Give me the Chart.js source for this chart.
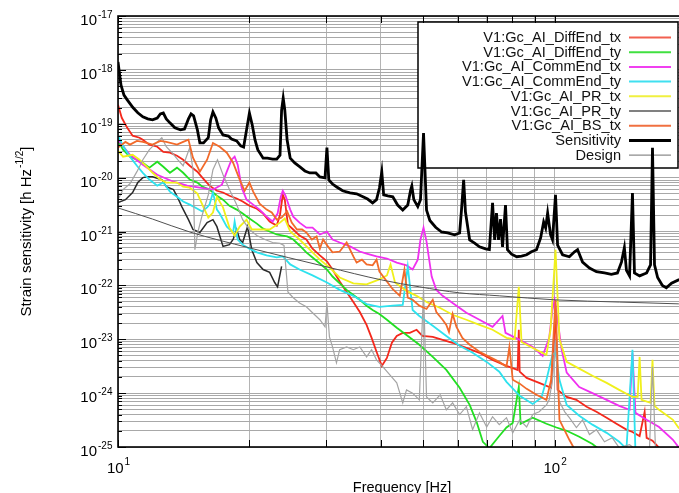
<!DOCTYPE html>
<html>
<head>
<meta charset="utf-8">
<script src="https://cdn.jsdelivr.net/npm/chart.js@4.4.1/dist/chart.umd.min.js"></script>
<style>
html,body{margin:0;padding:0;background:#ffffff;overflow:hidden;}
body{width:679px;height:493px;position:relative;}
#wrap{position:absolute;left:0;top:0;width:690px;height:493px;}
canvas{display:block;}
</style>
</head>
<body>
<div id="wrap"><canvas id="chart" width="690" height="493"></canvas></div>
<script>
// ---------------- data ----------------
const seriesLabels = [
  'V1:Gc_AI_DiffEnd_tx','V1:Gc_AI_DiffEnd_ty','V1:Gc_AI_CommEnd_tx','V1:Gc_AI_CommEnd_ty',
  'V1:Gc_AI_PR_tx','V1:Gc_AI_PR_ty','V1:Gc_AI_BS_tx','Sensitivity','Design'
];
const yTickDecades = [-17,-18,-19,-20,-21,-22,-23,-24,-25];
const xTickValues = [10,20,30,40,50,60,70,80,90,100,200];
const xLabelDecades = [1,2];

const redFreq = [10.0,10.2,10.5,10.8,11.2,11.4,11.8,12.3,12.7,13.15,13.65,14.1,14.6,15.2,15.6,16.2,16.85,17.4,18.0,18.7,19.3,20.0,20.8,21.5,22.25,23.1,23.5,23.85,24.1,24.5,25.2,26.05,27.0,27.9,29.0,30.1,31.0,32.2,33.4,34.6,35.8,37.1,38.1,39.1,40.2,41.3,42.4,43.5,44.9,46.6,48.3,49.8,52.6,55.4,58.4,62.8,67.3,72.1,77.6,82.3,82.8,83.2,86.3,92.2,98.2,100.5,101.6,106.6,112.2,118.4,124.7,131.6,138.6,146.1,150.8,156.6,160.8,162.5,167.6,173.5];
const redVal = [2.25e-19,1.29e-19,8.4e-20,6.0e-20,5.5e-20,5.05e-20,4.1e-20,3.75e-20,3.0e-20,2.9e-20,2.55e-20,2.15e-20,1.66e-20,1.29e-20,1.0e-20,7.1e-21,5.7e-21,5.3e-21,4.6e-21,4.1e-21,3.6e-21,3.0e-21,2.65e-21,2.15e-21,1.53e-21,1.29e-21,2.05e-21,4.8e-21,3.9e-21,1.34e-21,1.09e-21,8.4e-22,7.1e-22,4.8e-22,3.6e-22,2.8e-22,1.97e-22,1.18e-22,7.55e-23,4.9e-23,3.2e-23,1.85e-23,1.06e-23,5.85e-24,3.2e-24,4.5e-24,8.6e-24,1.15e-23,1.31e-23,1.31e-23,1.5e-23,1.15e-23,1.11e-23,9.75e-24,8.6e-24,6.9e-24,5.6e-24,4.15e-24,3.2e-24,2.7e-24,1.5e-23,2.5e-24,1.92e-24,1.55e-24,1.26e-24,3.5e-23,1.15e-24,8.5e-25,7.5e-25,5.6e-25,4.5e-25,3.5e-25,2.7e-25,2.1e-25,1.9e-25,1.6e-25,4.5e-25,1.48e-25,1.31e-25,9.7e-26];

const greenFreq = [10.0,10.27,10.65,11.05,11.4,11.8,12.3,12.7,13.15,13.65,14.1,14.6,15.2,15.6,16.2,16.85,17.4,18.0,18.7,19.3,20.0,20.8,21.5,22.25,23.1,23.85,24.4,25.2,26.05,27.0,27.9,29.0,30.1,31.0,32.2,33.4,34.6,35.8,37.1,38.3,39.7,41.3,43.5,45.8,49.0,52.6,56.5,60.6,63.9,66.3,68.5,70.9,74.7,77.6,80.2,82.8,83.6,89.1,95.8,101.0,106.6,113.9,122.1,128.8];
const greenVal = [4.8e-20,3.3e-20,2.45e-20,2.15e-20,1.89e-20,1.53e-20,1.97e-20,1.59e-20,1.23e-20,1.53e-20,1.23e-20,9.2e-21,8.1e-21,6.8e-21,6.0e-21,4.6e-21,3.9e-21,3.0e-21,2.55e-21,2.15e-21,1.74e-21,1.40e-21,1.13e-21,1.0e-21,8.8e-22,8.4e-22,8.1e-22,7.1e-22,5.5e-22,4.1e-22,3.3e-22,2.55e-22,1.97e-22,1.46e-22,1.09e-22,8.25e-23,6.65e-23,5.4e-23,4.2e-23,3.5e-23,2.95e-23,2.3e-23,1.63e-23,1.2e-23,7.9e-24,4.7e-24,2.7e-24,1.26e-24,6.05e-25,2.9e-25,1.25e-25,9.5e-26,1.6e-25,2.3e-25,2.8e-25,1.3e-24,2.7e-25,3.5e-25,2.7e-25,2.3e-25,2.0e-25,1.55e-25,1.14e-25,8.1e-26];

const magFreq = [10.0,10.65,11.4,12.3,13.4,14.4,15.4,16.5,17.3,17.75,18.2,18.5,18.8,19.2,19.7,20.4,21.1,21.9,22.6,23.2,23.6,23.85,24.2,24.8,25.2,26.05,27.0,27.9,29.0,30.1,31.0,32.2,34.0,35.8,37.1,39.1,41.3,43.5,45.8,47.3,48.6,49.3,50.1,50.9,52.3,53.6,55.4,58.4,62.8,67.3,72.1,76.0,77.2,83.2,89.1,93.9,97.2,98.9,100.0,101.6,103.8,106.6,113.9,122.1,131.6,140.6,148.5,150.8,153.2,162.5,173.5,186.7,192.2,199.5];
const magVal = [5.05e-20,2.65e-20,1.74e-20,1.13e-20,8.4e-21,7.1e-21,6.5e-21,6.0e-21,7.4e-21,1.29e-20,2.15e-20,2.45e-20,1.74e-20,6.5e-21,3.9e-21,3.15e-21,2.55e-21,1.89e-21,1.53e-21,2.15e-21,4.4e-21,5.7e-21,4.6e-21,2.55e-21,1.89e-21,1.46e-21,1.18e-21,1.18e-21,8.8e-22,1.0e-21,7.1e-22,6.25e-22,5.3e-22,4.25e-22,3.9e-22,3.45e-22,3.15e-22,2.65e-22,2.35e-22,1.97e-22,3.0e-22,7.1e-22,1.18e-21,6.5e-22,1.46e-22,8.25e-23,6.4e-23,4.7e-23,3.1e-23,2.3e-23,1.7e-23,2.7e-23,1.31e-23,9.75e-24,7.2e-24,4.9e-24,1.06e-23,3.5e-23,5.4e-23,2.3e-23,6.4e-24,2.4e-24,1.3e-24,1.0e-24,7.5e-25,5.8e-25,4.9e-25,5.6e-24,4.3e-25,3.2e-25,2.35e-25,1.36e-25,1.0e-25,8e-26];

const cyanFreq = [10.0,10.27,10.65,11.05,11.4,11.8,12.3,12.7,13.15,13.65,14.1,14.6,15.2,15.6,16.0,16.2,16.5,16.85,17.1,17.75,18.35,18.5,18.8,19.3,20.0,20.8,21.9,23.1,23.85,24.8,26.05,27.9,30.1,32.2,34.6,37.1,39.7,42.6,44.9,46.1,47.3,49.0,52.6,56.5,60.6,64.9,69.9,74.7,77.6,83.2,89.1,93.3,95.8,98.9,100.5,102.6,106.6,113.9,122.1,131.6,140.6,146.1,150.8,153.2];
const cyanVal = [6.0e-20,3.9e-20,2.45e-20,1.66e-20,1.23e-20,9.2e-21,7.1e-21,8.1e-21,5.5e-21,4.4e-21,3.6e-21,3.15e-21,2.65e-21,2.35e-21,2.8e-21,3.15e-21,5.3e-21,2.55e-21,2.15e-21,1.23e-21,9.6e-22,1.53e-21,7.1e-22,5.7e-22,4.8e-22,4.1e-22,3.6e-22,3.3e-22,3.45e-22,2.45e-22,1.97e-22,1.53e-22,1.13e-22,8.25e-23,6.4e-23,4.5e-23,4.0e-23,4.2e-23,4.35e-23,2.25e-22,3.5e-23,2.7e-23,1.78e-23,1.15e-23,7.55e-24,5.6e-24,3.8e-24,2.5e-24,1.62e-24,8.9e-25,6.3e-25,8.2e-25,1.77e-24,5.15e-24,5.85e-24,1.77e-24,6.05e-25,3.8e-25,2.6e-25,1.83e-25,1.25e-25,9.3e-26,6.4e-24,8e-26];

const yelFreq = [10.0,10.27,10.8,11.2,11.65,12.0,12.5,12.9,13.65,14.1,14.6,15.2,15.6,16.1,16.5,16.85,17.4,18.0,18.5,19.0,19.7,20.25,21.1,22.25,23.5,24.1,24.8,26.05,27.5,29.0,30.5,32.2,34.6,37.1,39.7,41.3,42.1,43.1,45.8,48.3,50.9,54.7,58.4,62.8,67.3,72.1,77.6,81.0,82.8,84.0,89.1,95.8,97.9,100.5,102.6,106.6,113.9,122.1,131.6,140.6,150.8,155.0,156.6,158.2,165.9,167.6,169.4,173.5,186.7,192.2,199.5];
const yelVal = [3.15e-20,2.45e-20,2.65e-20,2.15e-20,1.59e-20,1.23e-20,9.2e-21,8.1e-21,8.1e-21,6.8e-21,6.5e-21,5.05e-21,3.15e-21,1.81e-21,2.25e-21,4.4e-21,2.8e-21,1.18e-21,8.4e-22,1.23e-21,1.66e-21,1.09e-21,1.09e-21,1.09e-21,1.46e-21,1.74e-21,1.0e-21,7.1e-22,4.6e-22,3.0e-22,2.15e-22,1.40e-22,1.09e-22,1.04e-22,1.29e-22,1.53e-22,2.45e-22,1.13e-22,7.9e-23,6.4e-23,4.9e-23,3.8e-23,2.85e-23,2.3e-23,1.85e-23,1.5e-23,1.06e-23,1.0e-23,9.4e-23,8.9e-24,6.9e-24,5.15e-24,1.5e-23,4.6e-22,1.0e-23,3.8e-24,2.85e-24,2.1e-24,1.55e-24,1.15e-24,8.5e-25,8.5e-25,4.7e-24,7.5e-25,6.6e-25,4.15e-24,5.8e-25,4.9e-25,3.2e-25,2.3e-25,1.8e-25];

const grayFreq = [10.0,10.27,10.65,11.05,11.4,11.8,12.3,12.6,12.9,13.3,13.7,14.1,14.4,14.6,14.85,15.0,15.25,15.6,16.1,16.5,16.9,17.4,18.0,18.7,19.3,20.0,20.8,21.7,22.6,23.5,24.0,24.5,25.2,26.05,27.0,27.9,29.0,29.8,30.1,30.5,31.0,31.65,32.2,33.4,34.6,35.8,37.1,38.1,39.1,40.4,41.9,43.5,44.9,45.8,47.3,49.0,50.1,50.9,52.6,54.7,56.5,58.4,60.6,62.8,64.9,67.3,69.9,72.1,74.7,77.6,80.2,83.2,86.3,89.1,92.2,95.8,97.2,98.9,100.5,102.1,105.5,108.1,112.2,115.9,120.2,124.7,130.1,135.6,140.6,148.5,156.6,165.0,167.6,170.3,178.4];
const grayVal = [3.9e-21,6.0e-21,7.7e-21,1.29e-20,2.15e-20,3.3e-20,4.6e-20,5.5e-20,3.75e-20,2.9e-20,2.15e-20,1.66e-20,2.65e-20,3.6e-20,1.40e-20,4.6e-22,1.0e-21,2.05e-21,4.8e-21,1.40e-20,2.15e-20,1.13e-20,6.0e-21,3.15e-21,1.66e-21,1.09e-21,8.4e-22,7.1e-22,6.25e-22,6.0e-22,5.5e-22,7.55e-23,5.9e-23,4.7e-23,4.0e-23,3.1e-23,2.3e-23,1.7e-23,4.7e-23,1.11e-23,7.2e-24,3.65e-24,6.4e-24,7.2e-24,6.4e-24,7.2e-24,4.7e-24,6.4e-24,4.15e-24,3.1e-24,2.2e-24,1.55e-24,6.6e-25,1.15e-24,1.0e-24,7.5e-25,8.25e-23,8.5e-25,6.6e-25,9.3e-25,4.9e-25,6.6e-25,4.0e-25,5.6e-25,2.1e-25,4.3e-25,2.35e-25,3.65e-25,2.6e-25,3.5e-25,1.83e-25,3.2e-25,2.35e-25,4.0e-25,4.5e-25,6.05e-25,7.5e-25,1.77e-24,9.75e-24,7.5e-25,4.5e-25,3.5e-25,2.3e-25,3.2e-25,1.7e-25,2.1e-25,1.25e-25,1.48e-25,9.7e-26,1.1e-25,8e-26,9.7e-26,3.1e-24,8.8e-26,7.2e-26];

const orgFreq = [10.0,10.4,10.65,11.05,11.4,12.0,12.5,12.9,13.65,14.1,14.5,14.85,15.4,16.0,16.5,17.1,17.75,18.35,19.0,19.5,20.0,20.4,21.1,21.9,22.5,23.1,23.7,24.4,25.0,25.7,26.4,27.0,27.8,28.5,29.0,29.5,30.25,31.0,32.2,33.4,34.6,35.2,36.2,37.1,38.3,39.1,39.7,41.3,42.6,44.2,45.3,46.1,47.3,49.0,50.9,52.6,53.6,55.4,56.5,57.3,58.4,59.6,61.5,63.9,67.3,70.9,74.7,77.6,78.8,80.2,83.2,86.3,90.9,95.8,98.2,100.5,102.6,108.1,112.9];
const orgVal = [3.6e-20,4.6e-20,4.1e-20,4.8e-20,4.6e-20,4.1e-20,4.8e-20,4.6e-20,4.1e-20,4.6e-20,5.05e-20,2.35e-20,1.29e-20,2.15e-20,4.4e-20,3.75e-20,2.9e-20,1.89e-20,9.2e-21,5.7e-21,8.1e-21,5.5e-21,3.3e-21,2.55e-21,2.25e-21,1.66e-21,1.81e-21,2.35e-21,1.46e-21,1.09e-21,1.09e-21,9.6e-22,7.1e-22,8.1e-22,4.8e-22,7.1e-22,5.3e-22,4.1e-22,4.25e-22,6.25e-22,3.45e-22,2.65e-22,3.0e-22,2.45e-22,2.35e-22,3.0e-22,1.81e-22,1.18e-22,8.5e-23,6.4e-23,1.97e-22,5.9e-23,5.4e-23,4.2e-23,3.65e-23,5.4e-23,3.2e-23,2.3e-23,1.85e-23,1.37e-23,2.95e-23,1.7e-23,1.06e-23,7.9e-24,5.85e-24,4.7e-24,3.8e-24,3.1e-24,7.2e-24,1.77e-24,1.5e-24,1.2e-24,9.3e-25,7.5e-25,1.77e-24,5.4e-23,3.2e-25,1.36e-25,7.2e-26];

const sensFreq = [10.0,10.16,10.32,10.49,10.82,11.1,11.4,11.7,12.0,12.3,12.5,12.7,12.9,13.15,13.5,13.9,14.2,14.5,14.7,14.9,15.2,15.4,15.7,16.1,16.3,16.5,16.75,17.0,17.4,17.9,18.2,18.7,19.1,19.4,19.7,20.0,20.3,20.6,20.9,21.5,22.0,22.6,23.1,23.5,23.7,23.9,24.1,24.4,24.8,25.4,26.1,26.8,27.5,28.4,29.0,29.8,30.1,30.4,31.0,31.7,32.7,34.0,35.2,36.4,37.3,38.3,39.1,39.7,40.2,40.6,41.5,42.6,43.7,44.9,46.1,46.8,47.1,47.6,48.6,49.3,50.1,50.9,51.8,53.4,55.1,56.9,59.0,60.6,61.2,61.9,62.5,63.9,65.6,67.3,69.5,70.9,72.1,72.9,73.6,74.4,75.2,76.0,77.2,78.0,79.7,81.9,84.0,86.3,88.5,90.9,92.9,94.4,95.4,96.4,97.9,98.9,100.5,101.6,104.3,108.1,111.1,112.9,115.9,120.2,124.7,130.1,134.9,139.3,142.3,144.5,146.1,148.5,150.8,152.4,156.6,162.5,165.9,167.6,169.4,172.2,176.6,180.3,185.3,192.2,199.5];
const sensVal = [1.4e-18,5.2e-19,3.4e-19,2.8e-19,2.0e-19,1.6e-19,1.34e-19,1.23e-19,1.18e-19,1.28e-19,1.52e-19,1.58e-19,1.23e-19,1.04e-19,8.4e-20,7.7e-20,8.0e-20,1.23e-19,1.52e-19,1.4e-19,7.7e-20,4.4e-20,4.4e-20,5.5e-20,1.18e-19,1.66e-19,1.28e-19,8.4e-20,6.2e-20,5.9e-20,5.2e-20,4.8e-20,3.9e-20,3.7e-20,7.7e-20,1.58e-19,9.5e-20,5.0e-20,3.3e-20,2.3e-20,2.3e-20,2.2e-20,2.2e-20,2.6e-20,1.8e-19,3.0e-19,1.8e-19,5.0e-20,2.3e-20,1.87e-20,1.58e-20,1.33e-20,1.22e-20,1.22e-20,1.03e-20,9.9e-21,3.6e-20,9.1e-21,7.6e-21,6.7e-21,5.7e-21,5.2e-21,5.0e-21,4.4e-21,4.0e-21,3.4e-21,3.9e-21,6.4e-21,1.28e-20,4.8e-21,4.6e-21,4.4e-21,3.1e-21,2.5e-21,3.1e-21,5.9e-21,7.0e-21,3.9e-21,2.9e-21,3.9e-21,6.75e-20,2.5e-21,1.6e-21,1.2e-21,9.8e-22,9.4e-22,8.7e-22,9.4e-22,2.5e-21,9.1e-21,2.3e-21,7.0e-22,6.1e-22,5.2e-22,4.75e-22,4.6e-22,3.4e-21,7.0e-22,2.2e-21,7.0e-22,1.7e-21,5.2e-22,3.1e-21,4.6e-22,3.8e-22,3.4e-22,3.5e-22,3.7e-22,4.2e-22,4.6e-22,7.6e-22,1.5e-21,1.17e-21,2.2e-21,8.7e-22,7.0e-22,4.8e-21,5.6e-22,3.7e-22,3.4e-22,4.2e-22,4.6e-22,2.7e-22,2.1e-22,1.8e-22,1.7e-22,1.6e-22,1.7e-22,2.7e-22,5.0e-22,1.9e-22,1.5e-22,5.2e-21,1.7e-22,1.5e-22,1.7e-22,2.4e-22,3.6e-20,2.4e-22,1.4e-22,1.0e-22,9.0e-23,1.1e-22,1.26e-22,1.3e-22];

const designFreq = [10,12.0,14.6,20.0,30.1,40.2,49.0,60.6,74.7,100.5,140.9,192.2,199.5];
const designVal = [2.74e-21,1.7e-21,9.8e-22,4.96e-22,2.2e-22,1.26e-22,9.4e-23,7.26e-23,6.4e-23,5.38e-23,4.9e-23,4.54e-23,4.5e-23];

// unlabeled dark trace visible at low frequency
const darkFreq = [10.0,10.4,10.8,11.1,11.4,11.7,12.0,12.35,12.6,12.9,13.4,13.7,14.0,14.5,14.85,15.4,16.0,16.5,16.85,17.4,18.0,18.35,18.7,19.0,19.3,19.8,20.25,20.8,21.5,22.25,22.85,23.2,23.7];
const darkVal = [3.45e-21,3.9e-21,5.3e-21,8.1e-21,1.0e-20,1.04e-20,1.04e-20,9.6e-21,9.2e-21,6.8e-21,6.0e-21,4.25e-21,2.9e-21,1.66e-21,1.09e-21,9.6e-22,1.46e-21,1.66e-21,1.23e-21,5.3e-22,5.7e-22,7.1e-22,1.09e-21,7.1e-22,6.25e-22,1.23e-21,4.6e-22,2.65e-22,1.97e-22,1.74e-22,1.13e-22,9.4e-23,2.25e-22];

// ---------------- styles ----------------
const FONT = "'Liberation Sans', Arial, Helvetica, sans-serif";
const lineColors  = ['#f4281c','#22df22','#f030f0','#2ee2ee','#f0f01c','#a4a4a4','#f26a2a','#000000','#505050'];
const legendColors= ['#f26050','#40e040','#f040f0','#40e0f0','#f0f040','#808080','#f07040','#000000','#707070'];
const lineWidths  = [1.8,1.8,1.8,1.8,1.8,1.2,1.8,2.8,1.0];

function pts(fs, vs){ return fs.map((f,i)=>({x:f, y:vs[i]})); }
const seriesData = [
  pts(redFreq,redVal), pts(greenFreq,greenVal), pts(magFreq,magVal), pts(cyanFreq,cyanVal),
  pts(yelFreq,yelVal), pts(grayFreq,grayVal), pts(orgFreq,orgVal), pts(sensFreq,sensVal),
  pts(designFreq,designVal)
];

const datasets = seriesData.map((d,i)=>({
  label: seriesLabels[i],
  data: d,
  borderColor: lineColors[i],
  backgroundColor: lineColors[i],
  borderWidth: lineWidths[i],
  pointRadius: 0,
  fill: false,
  tension: 0,
  cubicInterpolationMode: i===8 ? 'monotone' : 'default',
  clip: 0,
  order: 20 - i
}));
datasets.push({
  label: '',
  data: pts(darkFreq, darkVal),
  borderColor: '#2a2a2a',
  borderWidth: 1.5,
  pointRadius: 0,
  fill: false,
  clip: 0,
  order: 30
});

// ---------------- decoration plugin ----------------
const decor = {
  id: 'decor',
  beforeDatasetsDraw(chart){
    const ctx = chart.ctx;
    const bx = 418, by = 22, bw = 260, bh = 146;
    ctx.save();
    ctx.fillStyle = '#ffffff';
    ctx.fillRect(bx, by, bw, bh);
    ctx.strokeStyle = '#000';
    ctx.lineWidth = 1.5;
    ctx.strokeRect(bx, by, bw, bh);
    ctx.font = '14.6px ' + FONT;
    ctx.textAlign = 'right';
    ctx.textBaseline = 'middle';
    for (let i = 0; i < seriesLabels.length; i++) {
      const yy = 37.5 + i * 14.7;
      ctx.fillStyle = '#111';
      ctx.fillText(seriesLabels[i], 621, yy + 0.5);
      ctx.strokeStyle = legendColors[i];
      ctx.lineWidth = i === 7 ? 3 : (i === 8 ? 1 : 2);
      ctx.beginPath();
      ctx.moveTo(629, yy);
      ctx.lineTo(671, yy);
      ctx.stroke();
    }
    ctx.restore();
  },
  afterDatasetsDraw(chart){
    const ctx = chart.ctx, a = chart.chartArea;
    const xs = chart.scales.x, ys = chart.scales.y;
    ctx.save();
    ctx.strokeStyle = '#000';
    ctx.lineWidth = 1;
    ctx.beginPath();
    xTickValues.forEach(v => {
      const px = Math.round(xs.getPixelForValue(v)) + 0.5;
      ctx.moveTo(px, a.bottom); ctx.lineTo(px, a.bottom - 7);
      ctx.moveTo(px, a.top); ctx.lineTo(px, a.top + 7);
    });
    yTickDecades.forEach(e => {
      for (let m = 1; m <= 9; m++) {
        const v = m * Math.pow(10, e);
        if (v > 1.0000001e-17) continue;
        const py = Math.round(ys.getPixelForValue(v)) + 0.5;
        const len = m === 1 ? 8 : 4;
        ctx.moveTo(a.left, py); ctx.lineTo(a.left + len, py);
      }
    });
    ctx.stroke();
    ctx.lineWidth = 1.6;
    ctx.strokeRect(a.left, a.top, a.right - a.left, a.bottom - a.top);
    ctx.restore();
  },
  afterDraw(chart){
    const ctx = chart.ctx, a = chart.chartArea;
    const xs = chart.scales.x, ys = chart.scales.y;
    ctx.save();
    ctx.fillStyle = '#000';
    ctx.textBaseline = 'alphabetic';
    yTickDecades.forEach(e => {
      const py = ys.getPixelForValue(Math.pow(10, e));
      ctx.font = '15px ' + FONT;
      ctx.textAlign = 'right';
      ctx.fillText('10', 97, py + 9);
      ctx.font = '10px ' + FONT;
      ctx.textAlign = 'left';
      ctx.fillText(String(e), 98, py + 2);
    });
    xLabelDecades.forEach(e => {
      const px = xs.getPixelForValue(Math.pow(10, e));
      ctx.font = '15px ' + FONT;
      const w1 = ctx.measureText('10').width;
      ctx.font = '10px ' + FONT;
      const w2 = ctx.measureText(String(e)).width;
      const x0 = px - (w1 + w2) / 2;
      ctx.textAlign = 'left';
      ctx.font = '15px ' + FONT;
      ctx.fillText('10', x0, 473);
      ctx.font = '10px ' + FONT;
      ctx.fillText(String(e), x0 + w1 + 1, 465);
    });
    ctx.font = '14.5px ' + FONT;
    ctx.textAlign = 'center';
    ctx.fillText('Frequency [Hz]', (a.left + a.right) / 2, 492);
    ctx.translate(26, (a.top + a.bottom) / 2);
    ctx.rotate(-Math.PI / 2);
    const p1 = 'Strain sensitivity [h Hz', p2 = '-1/2', p3 = ']';
    ctx.font = '15px ' + FONT;
    const w1 = ctx.measureText(p1).width, w3 = ctx.measureText(p3).width;
    ctx.font = '10px ' + FONT;
    const w2 = ctx.measureText(p2).width;
    let x = -(w1 + w2 + w3 + 1) / 2;
    ctx.textAlign = 'left';
    ctx.font = '15px ' + FONT;
    ctx.fillText(p1, x, 5);
    ctx.font = '10px ' + FONT;
    ctx.fillText(p2, x + w1 + 1, -3);
    ctx.font = '15px ' + FONT;
    ctx.fillText(p3, x + w1 + w2 + 1, 5);
    ctx.restore();
  }
};

// ---------------- chart ----------------
const yGridTicks = [];
yTickDecades.forEach(e => { for (let m = 1; m <= 9; m++) { const v = m * Math.pow(10, e); if (v <= 1.0000001e-17) yGridTicks.push(v); } });

new Chart(document.getElementById('chart'), {
  type: 'line',
  data: { datasets },
  options: {
    responsive: false,
    animation: false,
    layout: { padding: { left: 118, top: 16, right: 4, bottom: 46 } },
    plugins: { legend: { display: false }, tooltip: { enabled: false } },
    scales: {
      x: {
        type: 'logarithmic', min: 10, max: 200,
        afterBuildTicks: s => { s.ticks = xTickValues.map(v => ({ value: v })); },
        afterFit: s => { s.height = 0; },
        ticks: { display: false },
        border: { display: false },
        grid: { color: '#b4b4b4', lineWidth: 1, drawTicks: false }
      },
      y: {
        type: 'logarithmic', min: 1e-25, max: 1e-17,
        afterBuildTicks: s => { s.ticks = yGridTicks.map(v => ({ value: v })); },
        afterFit: s => { s.width = 0; },
        ticks: { display: false },
        border: { display: false },
        grid: { color: '#a8a8a8', lineWidth: 1, drawTicks: false }
      }
    }
  },
  plugins: [decor]
});
</script>
</body>
</html>
